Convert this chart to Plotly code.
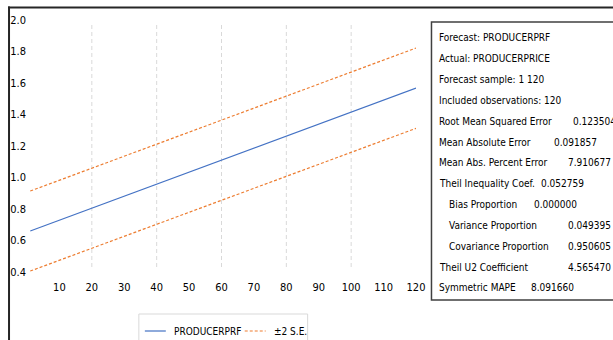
import plotly.graph_objects as go

# ---- data ----
obs = [1, 120]
forecast = [0.66, 1.568]
upper_se = [0.914, 1.822]
lower_se = [0.406, 1.312]

x_ticks = [10, 20, 30, 40, 50, 60, 70, 80, 90, 100, 110, 120]
y_ticks = [0.4, 0.6, 0.8, 1.0, 1.2, 1.4, 1.6, 1.8, 2.0]
grid_x = [20, 40, 60, 80, 100]

series_names = ["PRODUCERPRF", "±2 S.E."]

stat_labels = [
    "Forecast: PRODUCERPRF",
    "Actual: PRODUCERPRICE",
    "Forecast sample: 1 120",
    "Included observations: 120",
    "Root Mean Squared Error",
    "Mean Absolute Error",
    "Mean Abs. Percent Error",
    "Theil Inequality Coef.",
    "Bias Proportion",
    "Variance Proportion",
    "Covariance Proportion",
    "Theil U2 Coefficient",
    "Symmetric MAPE",
]
stat_values = ["", "", "", "", "0.123504", "0.091857", "7.910677", "0.052759",
               "0.000000", "0.049395", "0.950605", "4.565470", "8.091660"]

# ---- layout helpers (pixel -> paper) ----
W, H = 613, 340
L, R, T, B = 27, 416.5, 20, 272
def px(xp):
    return (xp - L) / (R - L)
def py(yp):
    return (B - yp) / (B - T)

FONT = "DejaVu Sans Condensed, DejaVu Sans, sans-serif"
BLUE = "#4472C4"
ORANGE = "#ED7D31"
DASH = "3px,2px"

fig = go.Figure()
fig.add_trace(go.Scatter(x=obs, y=forecast, mode="lines", name=series_names[0],
                         line=dict(color=BLUE, width=1.2)))
fig.add_trace(go.Scatter(x=obs, y=upper_se, mode="lines", name=series_names[1],
                         line=dict(color=ORANGE, width=1.2, dash=DASH)))
fig.add_trace(go.Scatter(x=obs, y=lower_se, mode="lines", name=series_names[1],
                         line=dict(color=ORANGE, width=1.2, dash=DASH)))

shapes = []
for g in grid_x:
    shapes.append(dict(type="line", xref="x", yref="paper", x0=g, x1=g,
                       y0=py(267), y1=py(23),
                       line=dict(color="#d9d9d9", width=1, dash="4px,3px"),
                       layer="below"))
# outer frame (only its left and top edges fall inside the picture)
shapes.append(dict(type="rect", xref="paper", yref="paper",
                   x0=px(8), x1=px(10), y0=py(6.5), y1=py(400),
                   line=dict(width=0), fillcolor="#262626"))
shapes.append(dict(type="rect", xref="paper", yref="paper",
                   x0=px(8), x1=px(700), y0=py(6.5), y1=py(8.5),
                   line=dict(width=0), fillcolor="#262626"))
# statistics box
shapes.append(dict(type="rect", xref="paper", yref="paper",
                   x0=px(432), x1=px(640), y0=py(22), y1=py(300),
                   line=dict(color="#404040", width=1.5), fillcolor="white"))
# legend box and samples
shapes.append(dict(type="rect", xref="paper", yref="paper",
                   x0=px(139), x1=px(308), y0=py(314), y1=py(352),
                   line=dict(color="#d9d9d9", width=1), fillcolor="white"))
shapes.append(dict(type="line", xref="paper", yref="paper",
                   x0=px(145), x1=px(166), y0=py(331), y1=py(331),
                   line=dict(color=BLUE, width=1.2)))
shapes.append(dict(type="line", xref="paper", yref="paper",
                   x0=px(245), x1=px(266), y0=py(331), y1=py(331),
                   line=dict(color=ORANGE, width=1.2, dash=DASH)))

label_x = [438, 438, 438, 438, 438, 438, 438, 438, 448, 448, 448, 438, 438]
value_x = [0, 0, 0, 0, 571.5, 553, 566.5, 540, 533, 566.5, 566.5, 566.5, 530]
row0, row_step = 38, 20.83
annotations = []
for i, (lab, val) in enumerate(zip(stat_labels, stat_values)):
    yy = row0 + i * row_step
    annotations.append(dict(text=lab, xref="paper", yref="paper",
                            x=px(label_x[i]), y=py(yy), xanchor="left", yanchor="middle",
                            showarrow=False, font=dict(family=FONT, size=10, color="#000")))
    if val:
        annotations.append(dict(text=val, xref="paper", yref="paper",
                                x=px(value_x[i]), y=py(yy), xanchor="left", yanchor="middle",
                                showarrow=False, font=dict(family=FONT, size=10, color="#000")))
for name, xl in zip(series_names, [172, 272.5]):
    annotations.append(dict(text=name, xref="paper", yref="paper",
                            x=px(xl), y=py(331), xanchor="left", yanchor="middle",
                            showarrow=False, font=dict(family=FONT, size=10, color="#000")))

fig.update_layout(
    width=W, height=H,
    margin=dict(l=L, r=W - R, t=T, b=H - B, autoexpand=False),
    paper_bgcolor="white", plot_bgcolor="white",
    font=dict(family=FONT, size=11, color="#000"),
    xaxis=dict(range=[0, 120], tickvals=x_ticks, ticktext=[str(v) for v in x_ticks],
               showgrid=False, zeroline=False, showline=False, ticks="",
               automargin=False, ticklabelstandoff=7, tickfont=dict(size=11)),
    yaxis=dict(range=[0.4, 2.0], tickvals=y_ticks, ticktext=[f"{v:.1f}" for v in y_ticks],
               showgrid=False, zeroline=False, showline=False, ticks="",
               automargin=False, tickfont=dict(size=11)),
    shapes=shapes,
    annotations=annotations,
    showlegend=False,
)

fig.write_html("out.html",
               config={"displayModeBar": False},
               post_script="document.body.style.margin='0';document.body.style.overflow='hidden';")
